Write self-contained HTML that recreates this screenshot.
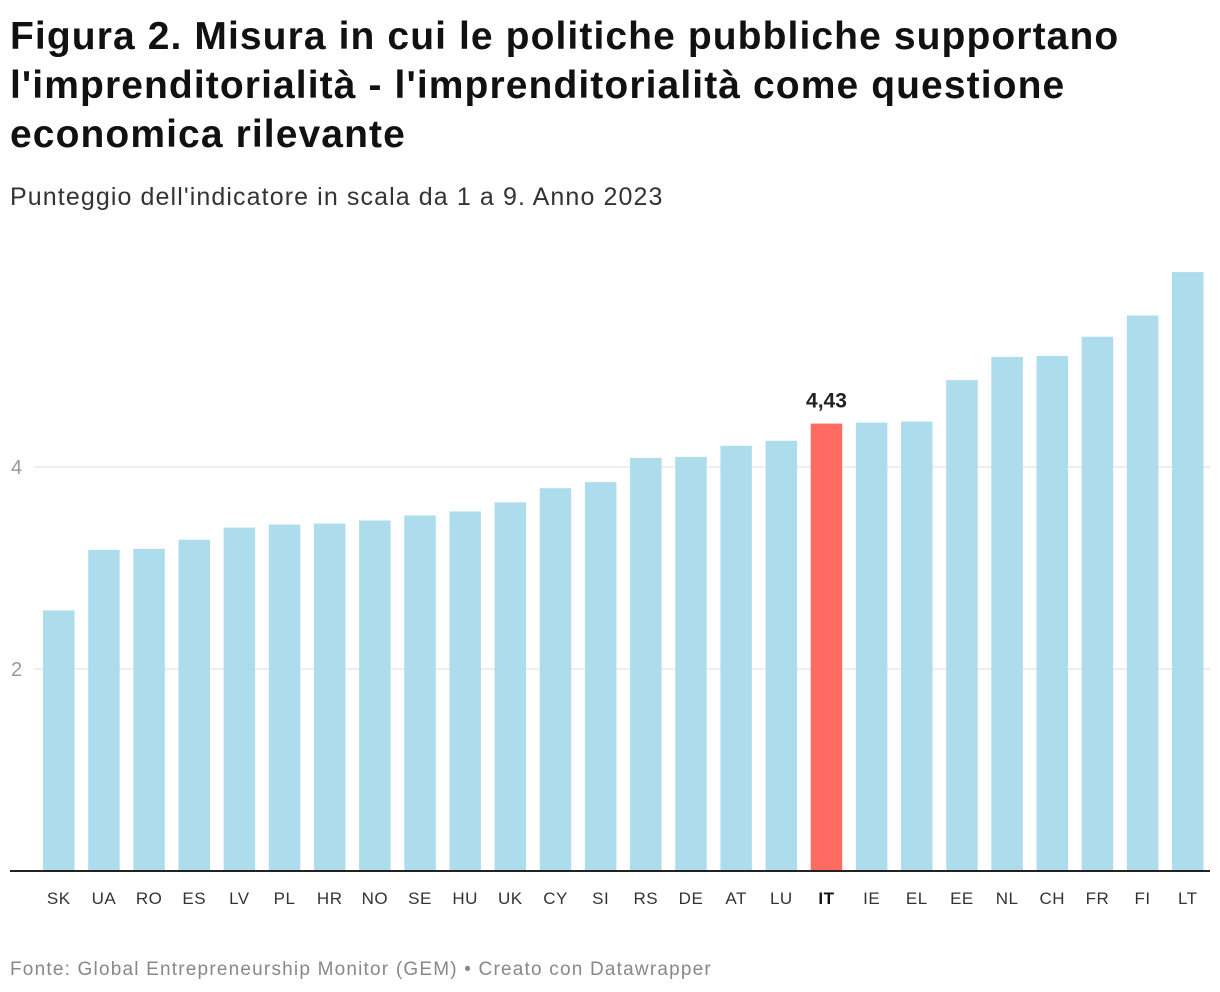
<!DOCTYPE html>
<html><head><meta charset="utf-8"><style>
body{margin:0;background:#fff;font-family:"Liberation Sans",Arial,sans-serif;}
#wrap{position:relative;width:1220px;height:992px;overflow:hidden}
h1{position:absolute;left:10px;top:12px;margin:0;font-size:39px;line-height:49px;font-weight:bold;color:#111;letter-spacing:1.1px;width:1180px}
.sub{position:absolute;left:10px;top:183px;font-size:25px;color:#333;letter-spacing:1.1px}
.foot{position:absolute;left:10px;top:959px;font-size:19px;color:#888;letter-spacing:1.2px}
</style></head><body>
<div id="wrap">
<h1>Figura 2. Misura in cui le politiche pubbliche supportano l'imprenditorialità - l'imprenditorialità come questione economica rilevante</h1>
<div class="sub">Punteggio dell'indicatore in scala da 1 a 9. Anno 2023</div>
<svg id="chart" width="1220" height="992" style="position:absolute;left:0;top:0"></svg>
<div class="foot">Fonte: Global Entrepreneurship Monitor (GEM) • Creato con Datawrapper</div>
</div>
<script>
const categories=["SK","UA","RO","ES","LV","PL","HR","NO","SE","HU","UK","CY","SI","RS","DE","AT","LU","IT","IE","EL","EE","NL","CH","FR","FI","LT"];
const values=[2.58,3.18,3.19,3.28,3.40,3.43,3.44,3.47,3.52,3.56,3.65,3.79,3.85,4.09,4.10,4.21,4.26,4.43,4.44,4.45,4.86,5.09,5.10,5.29,5.50,5.93];
const yTicks=[2,4];
const highlight="IT";
const highlightLabel="4,43";
const NS="http://www.w3.org/2000/svg";
const svg=document.getElementById('chart');
const y0=871,unit=101,x0=43,pitch=45.16,bw=31.5;
const y=v=>y0-v*unit;
const x=i=>x0+i*pitch;
function mk(t,a){const e=document.createElementNS(NS,t);for(const k in a)e.setAttribute(k,a[k]);svg.appendChild(e);return e;}
yTicks.forEach(t=>{
  const l=mk('line',{x1:34,x2:1210,y1:y(t),y2:y(t),stroke:'#ddd','stroke-width':1});
  
  
  const tx=mk('text',{x:11,y:y(t)+7,'font-size':20,fill:'#999','font-family':'Liberation Sans, sans-serif'});
  tx.textContent=t;
  
  
});
categories.forEach((c,i)=>{
  const v=values[i],hi=c===highlight;
  const r=mk('rect',{x:x(i),y:y(v),width:bw,height:y0-y(v),fill:hi?'#ff6b61':'#addcec'});
  
  
  const t=mk('text',{x:x(i)+bw/2,y:904,'text-anchor':'middle','font-size':17,'letter-spacing':0.5,fill:hi?'#111':'#333','font-weight':hi?'bold':'normal','font-family':'Liberation Sans, sans-serif'});
  t.textContent=c;
  
  
  if(hi){
    const lb=mk('text',{x:x(i)+bw/2,y:y(v)-16,'text-anchor':'middle','font-size':21,'font-weight':'bold',fill:'#222','font-family':'Liberation Sans, sans-serif'});
    lb.textContent=highlightLabel;
    
    
  }
});
const ax=mk('line',{x1:10,x2:1210,y1:y0,y2:y0,stroke:'#222','stroke-width':2});


</script>
</body></html>
